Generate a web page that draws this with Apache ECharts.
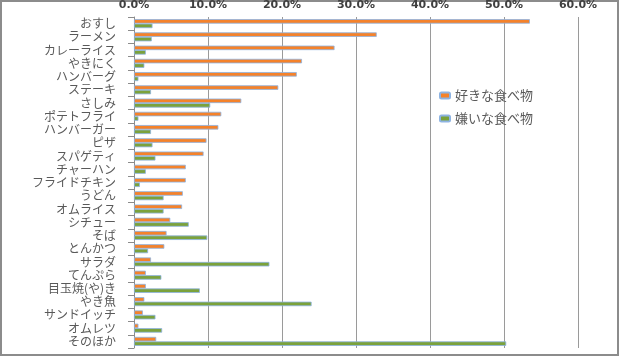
<!DOCTYPE html>
<html><head><meta charset="utf-8">
<script src="https://cdn.jsdelivr.net/npm/echarts@6/dist/echarts.min.js"></script>
<style>html,body{margin:0;padding:0;background:#fff}#c{width:620px;height:357px}</style>
</head><body><div id="c"></div>
<script>
const categories = ["おすし","ラーメン","カレーライス","やきにく","ハンバーグ","ステーキ","さしみ","ポテトフライ","ハンバーガー","ピザ","スパゲティ","チャーハン","フライドチキン","うどん","オムライス","シチュー","そば","とんかつ","サラダ","てんぷら","目玉焼(や)き","やき魚","サンドイッチ","オムレツ","そのほか"];
const likeValues = [53.5,32.8,27.1,22.7,22.0,19.5,14.5,11.8,11.4,9.8,9.4,7.0,7.0,6.6,6.5,4.9,4.4,4.1,2.3,1.6,1.6,1.4,1.2,0.6,3.0];
const dislikeValues = [2.5,2.4,1.6,1.4,0.6,2.3,10.3,0.6,2.3,2.5,2.9,1.6,0.8,4.0,4.0,7.4,9.9,1.9,18.3,3.7,8.9,24.0,2.9,3.8,50.3];
const seriesNames = ["好きな食べ物","嫌いな食べ物"];
const tickLabels = ["0.0%","10.0%","20.0%","30.0%","40.0%","50.0%","60.0%"];

const chart = echarts.init(document.getElementById('c'));
const jp = '"Noto Sans CJK JP", sans-serif';
chart.setOption({
  animation:false,
  backgroundColor:'#fff',
  graphic:[{type:'rect',shape:{x:1,y:1,width:617,height:354},style:{fill:'none',stroke:'#8c8c8c',lineWidth:2},silent:true}],
  legend:{
    data:seriesNames, orient:'vertical', left:434, top:84, itemGap:10,
    itemWidth:10, itemHeight:6,
    textStyle:{fontFamily:jp,fontSize:13,color:'#595959'}
  },
  grid:{left:134,right:42,top:17,bottom:9},
  xAxis:{
    type:'value', position:'top', min:0, max:60, interval:10,
    axisLine:{show:false}, axisTick:{show:false},
    splitLine:{lineStyle:{color:'#9a9a9a',width:1}},
    axisLabel:{formatter:(v)=>tickLabels[Math.round(v/10)], fontFamily:'"DejaVu Sans", sans-serif', fontWeight:'bold', fontSize:11, color:'#404040', margin:6}
  },
  yAxis:{
    type:'category', data:categories, inverse:true,
    axisLine:{lineStyle:{color:'#8c8c8c',width:1}},
    axisTick:{show:true,length:6,lineStyle:{color:'#8c8c8c'}},
    axisLabel:{fontFamily:jp,fontSize:12,color:'#595959',margin:18,interval:0}
  },
  series:[
    {name:seriesNames[0],type:'bar',data:likeValues,barWidth:4.5,barGap:'0%',
     itemStyle:{color:'#f5822a',borderColor:'#8db3e2',borderWidth:0.8}},
    {name:seriesNames[1],type:'bar',data:dislikeValues,barWidth:4.5,barGap:'0%',
     itemStyle:{color:'#7ba23b',borderColor:'#8db3e2',borderWidth:0.8}}
  ]
});
</script></body></html>
